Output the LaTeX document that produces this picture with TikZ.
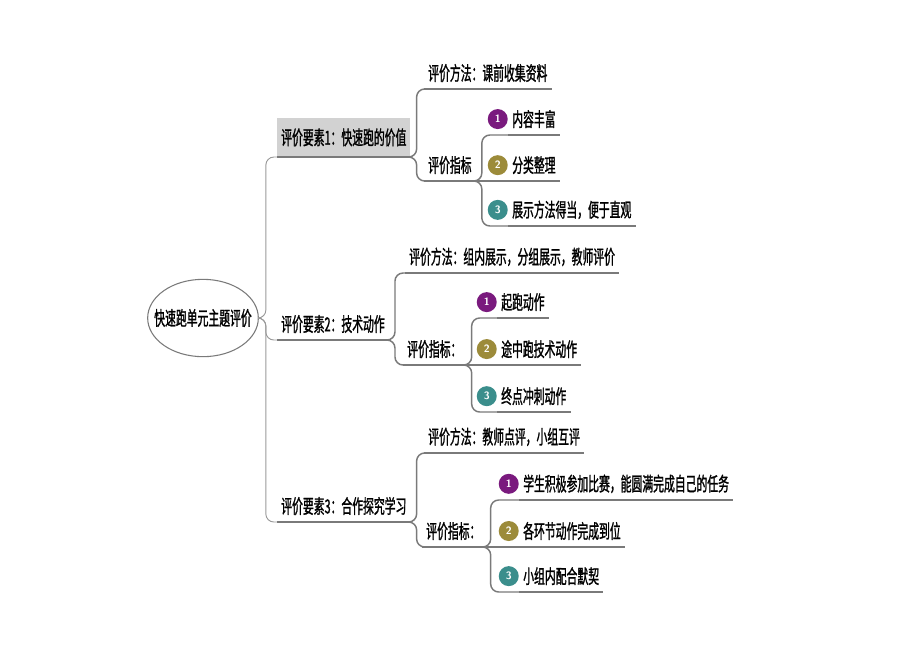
\documentclass[tikz,border=0pt]{standalone}
\usepackage{fontspec}
\newfontfamily\cjk[FakeStretch=0.56,FakeBold=1.2]{Noto Sans CJK SC}
\usetikzlibrary{shapes.geometric,positioning}

\definecolor{numpurple}{HTML}{7A1A7E}
\definecolor{numolive}{HTML}{9C8B3A}
\definecolor{numteal}{HTML}{3B8E8C}
\definecolor{linegray}{HTML}{7A7A7A}

\tikzset{
    root/.style={ellipse,draw=linegray,line width=0.8pt,minimum width=83pt,minimum height=58pt,inner xsep=-9pt,inner ysep=0pt,font=\cjk\fontsize{14.5}{16}\selectfont},
    topic/.style={anchor=south west,inner xsep=3pt,inner ysep=5pt,font=\cjk\fontsize{14.5}{16}\selectfont,text=black},
    badge/.style={circle,fill=#1,text=white,inner sep=0pt,minimum size=15pt,font=\sffamily\bfseries\footnotesize},
    uline/.style={draw=linegray,line width=1.4pt},
    link/.style={draw=linegray,line width=1.1pt,rounded corners=6pt},
    trunk/.style={draw=gray!80,line width=0.7pt,rounded corners=6pt}
}

\begin{document}
\begin{tikzpicture}[x=0.75pt,y=-0.75pt]
    \useasboundingbox (0,0) rectangle (920,651);

    \node[root] (root) at (203,318) {快速跑单元主题评价};

    \node[topic,fill=gray!35,minimum width=98pt,minimum height=29pt] (t1) at (277,157) {评价要素1：快速跑的价值};
    \node[topic] (t2) at (277,340) {评价要素2：技术动作};
    \node[topic] (t3) at (277,522) {评价要素3：合作探究学习};

    % element 1
    \node[topic] (m1) at (424,89) {评价方法：课前收集资料};
    \node[topic] (z1) at (424,181) {评价指标};
    \node[topic] (c11) at (508,135) {内容丰富};
    \node[topic] (c12) at (508,181) {分类整理};
    \node[topic] (c13) at (508,226) {展示方法得当，便于直观};
    \node[badge=numpurple,left=0pt of c11] (b11) {1};
    \node[badge=numolive,left=0pt of c12] (b12) {2};
    \node[badge=numteal,left=0pt of c13] (b13) {3};

    % element 2
    \node[topic] (m2) at (405,273) {评价方法：组内展示，分组展示，教师评价};
    \node[topic] (z2) at (403,365) {评价指标：};
    \node[topic] (c21) at (497,318) {起跑动作};
    \node[topic] (c22) at (497,365) {途中跑技术动作};
    \node[topic] (c23) at (497,412) {终点冲刺动作};
    \node[badge=numpurple,left=0pt of c21] (b21) {1};
    \node[badge=numolive,left=0pt of c22] (b22) {2};
    \node[badge=numteal,left=0pt of c23] (b23) {3};

    % element 3
    \node[topic] (m3) at (424,453) {评价方法：教师点评，小组互评};
    \node[topic] (z3) at (422,547) {评价指标：};
    \node[topic] (c31) at (519,500) {学生积极参加比赛，能圆满完成自己的任务};
    \node[topic] (c32) at (519,547) {各环节动作完成到位};
    \node[topic] (c33) at (519,592) {小组内配合默契};
    \node[badge=numpurple,left=0pt of c31] (b31) {1};
    \node[badge=numolive,left=0pt of c32] (b32) {2};
    \node[badge=numteal,left=0pt of c33] (b33) {3};

    % underlines
    \foreach \n in {t1,t2,t3,m1,z1,c11,c12,c13,m2,z2,c21,c22,c23,m3,z3,c31,c32,c33}
        \draw[uline] (\n.south west) -- (\n.south east);

    \draw[trunk] (root.east) -- ++(7,0) |- (t1.south west);
    \draw[trunk] (root.east) -- ++(7,0) |- (t2.south west);
    \draw[trunk] (root.east) -- ++(7,0) |- (t3.south west);

    \draw[link] (t1.south east) -- ++(6,0) |- (m1.south west);
    \draw[link] (t1.south east) -- ++(6,0) |- (z1.south west);
    \draw[link] (z1.south east) -- ++(6,0) |- (c11.south west);
    \draw[link] (z1.south east) -- (c12.south west);
    \draw[link] (z1.south east) -- ++(6,0) |- (c13.south west);

    \draw[link] (t2.south east) -- ++(6,0) |- (m2.south west);
    \draw[link] (t2.south east) -- ++(6,0) |- (z2.south west);
    \draw[link] (z2.south east) -- ++(6,0) |- (c21.south west);
    \draw[link] (z2.south east) -- (c22.south west);
    \draw[link] (z2.south east) -- ++(6,0) |- (c23.south west);

    \draw[link] (t3.south east) -- ++(6,0) |- (m3.south west);
    \draw[link] (t3.south east) -- ++(6,0) |- (z3.south west);
    \draw[link] (z3.south east) -- ++(6,0) |- (c31.south west);
    \draw[link] (z3.south east) -- (c32.south west);
    \draw[link] (z3.south east) -- ++(6,0) |- (c33.south west);
\end{tikzpicture}
\end{document}
